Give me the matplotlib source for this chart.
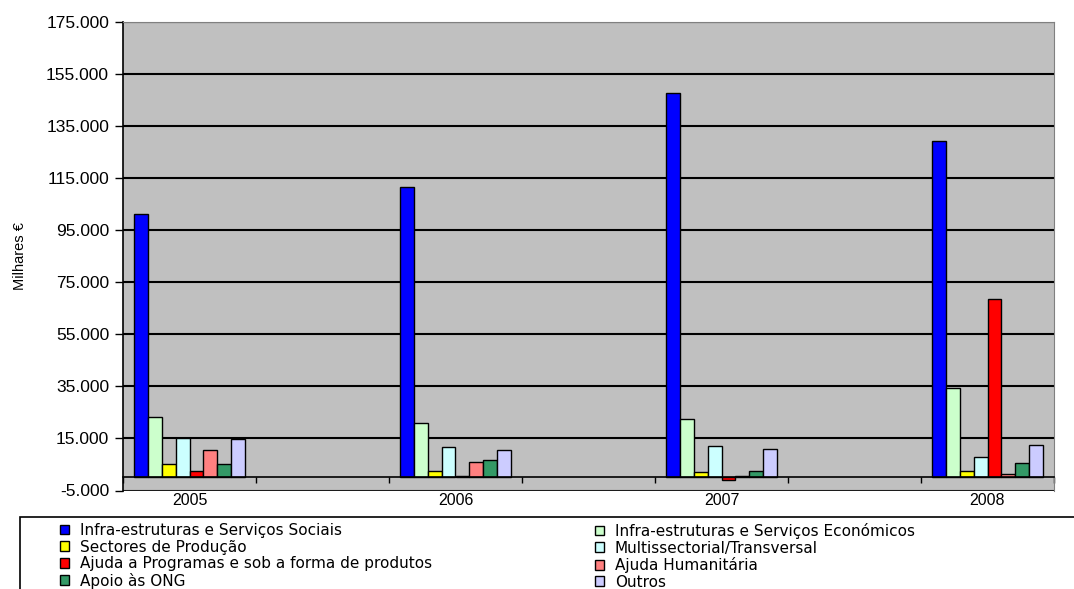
import matplotlib
matplotlib.use("Agg")
import matplotlib.pyplot as plt
from matplotlib import ticker
from matplotlib.patches import Rectangle
import numpy as np

plt.rcParams["font.family"] = ["Liberation Sans", "DejaVu Sans"]

anos = ["2005", "2006", "2007", "2008"]
series = [
    "Infra-estruturas e Serviços Sociais",
    "Infra-estruturas e Serviços Económicos",
    "Sectores de Produção",
    "Multissectorial/Transversal",
    "Ajuda a Programas e sob a forma de produtos",
    "Ajuda Humanitária",
    "Apoio às ONG",
    "Outros",
]
sociais = [101200, 111700, 147900, 129100]
economicos = [23200, 21100, 22500, 34200]
producao = [5100, 2300, 2200, 2300]
multissectorial = [15000, 11800, 12100, 7900]
programas = [2300, 700, -900, 68600]
humanitaria = [10400, 6000, 700, 1500]
ong = [5100, 6800, 2400, 5400]
outros = [14600, 10400, 11100, 12500]
cores = ["#0000ff", "#ccffcc", "#ffff00", "#ccffff",
         "#ff0000", "#ff8080", "#339966", "#ccccff"]

valores = [sociais, economicos, producao, multissectorial,
           programas, humanitaria, ong, outros]

fig = plt.figure(figsize=(10.74, 5.89), dpi=100)
ax = fig.add_axes([123 / 1074, 1 - 490.5 / 589, 931 / 1074, 468.5 / 589])
ax.set_facecolor("#c0c0c0")

# groups sit on every other category slot (empty slots in between)
x = np.arange(len(anos)) * 2
w = 0.105
barras = []
for i, (vals, cor, nome) in enumerate(zip(valores, cores, series)):
    b = ax.bar(x + (i - 3.5) * w, vals, w, color=cor, edgecolor="black",
               linewidth=1.0, label=nome, zorder=3)
    barras.append(b)

ax.set_xlim(-0.5, 6.5)
ax.set_ylim(-5000, 175000)
ax.yaxis.set_major_locator(ticker.FixedLocator(np.arange(-5000, 175001, 20000)))
ax.yaxis.set_major_formatter(
    ticker.FuncFormatter(lambda v, p: f"{int(v):,}".replace(",", "."))
)
ax.grid(axis="y", color="black", linewidth=1.5, zorder=1)
ax.tick_params(axis="y", direction="out", length=6, width=1, labelsize=12.5, pad=4)

ax.spines["bottom"].set_position(("data", 0))
ax.spines["bottom"].set_linewidth(1.2)
ax.spines["bottom"].set_zorder(4)
ax.spines["left"].set_linewidth(1.2)
ax.spines["top"].set_color("#808080")
ax.spines["right"].set_color("#808080")
ax.axhline(-5000, color="#909090", linewidth=1, zorder=2)

ax.set_xticks(x)
ax.set_xticklabels(anos)
ax.xaxis.set_minor_locator(ticker.FixedLocator(np.arange(-0.5, 6.6, 1.0)))
ax.tick_params(axis="x", which="major", length=0, labelsize=11.5, pad=11)
ax.tick_params(axis="x", which="minor", direction="out", length=4, width=1)

ax.set_ylabel("Milhares €", fontsize=10.5, labelpad=14)

# legend box, cut by the figure edge as in the original
fig.add_artist(Rectangle((20 / 1074, -0.2), 1.2, 0.2 + 1 - 517 / 589,
                         transform=fig.transFigure, fill=False,
                         edgecolor="black", linewidth=1.2))

estilo = dict(loc="upper left", ncol=1, frameon=False,
              prop={"family": "DejaVu Sans", "size": 11},
              handlelength=0.6, handleheight=0.6, handletextpad=0.7,
              labelspacing=0.1, borderpad=0, borderaxespad=0)
for col, x0 in ((0, 60), (1, 595)):
    idx = [col, col + 2, col + 4, col + 6]
    fig.legend([barras[k] for k in idx], [series[k] for k in idx],
               bbox_to_anchor=(x0 / 1074, 1 - 523 / 589), **estilo)

fig.savefig("out.png", dpi=100)
